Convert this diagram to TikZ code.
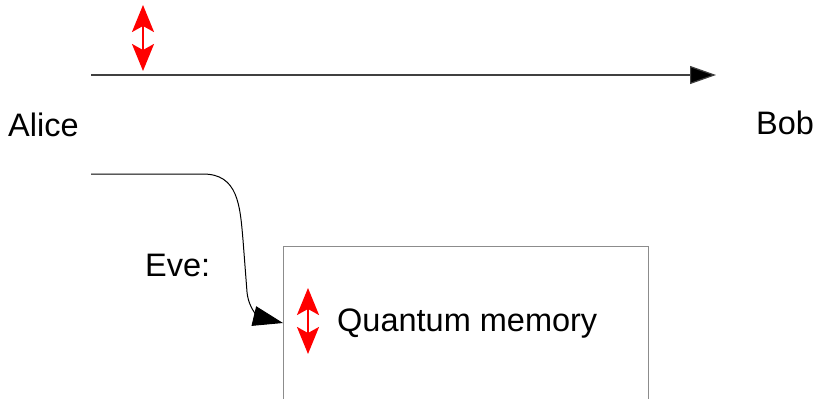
\documentclass[tikz,border=0pt]{standalone}
\usepackage{fontspec}
\setmainfont{Liberation Sans}
\usetikzlibrary{arrows.meta}
\begin{document}
\begin{tikzpicture}[x=1pt,y=-1pt,
  lbl/.style={font=\fontsize{32.5}{38}\selectfont, inner sep=0pt, anchor=base west},
  polar/.style={red, line width=2pt, {Stealth[length=27pt,width=22pt,inset=6pt]}-{Stealth[length=27pt,width=22pt,inset=6pt]}},
  channel/.style={line width=1.2pt, draw=black!75, -{Triangle[length=26pt,width=18pt,fill=black]}},
  eveline/.style={line width=1pt, -{Triangle[length=30pt,width=20pt]}}]
\useasboundingbox (0,0) rectangle (817,399);
\clip (0,0) rectangle (817,399);
% labels
\node[lbl] (alice) at (8,136) {Alice};
\node[lbl] (bob) at (756,134) {Bob};
\node[lbl] (eve) at (145,276) {Eve:};
% quantum channel
\coordinate (cs) at (91,75);
\coordinate (ce) at (716,75);
\draw[channel] (cs) -- (ce);
\coordinate (p1t) at (143,5);
\coordinate (p1b) at (143,71);
\draw[polar] (p1t) -- (p1b);
% memory box
\node[draw=black!45, line width=1pt, minimum width=365pt, minimum height=200pt, anchor=north west, inner sep=0pt] (box) at (283,246) {};
\coordinate (p2t) at (308,288);
\coordinate (p2b) at (308,354);
\draw[polar] (p2t) -- (p2b);
\node[lbl] (qm) at (337,331) {Quantum memory};
% Eve's diversion
\coordinate (es) at (91,174);
\coordinate (ee) at (box.west |- 0,323);
\draw[eveline] (es) -- (203,174) .. controls (238,174) and (240,205) .. (243,240) -- (247,292) .. controls (249,312) and (262,318) .. (ee);
\end{tikzpicture}
\end{document}
